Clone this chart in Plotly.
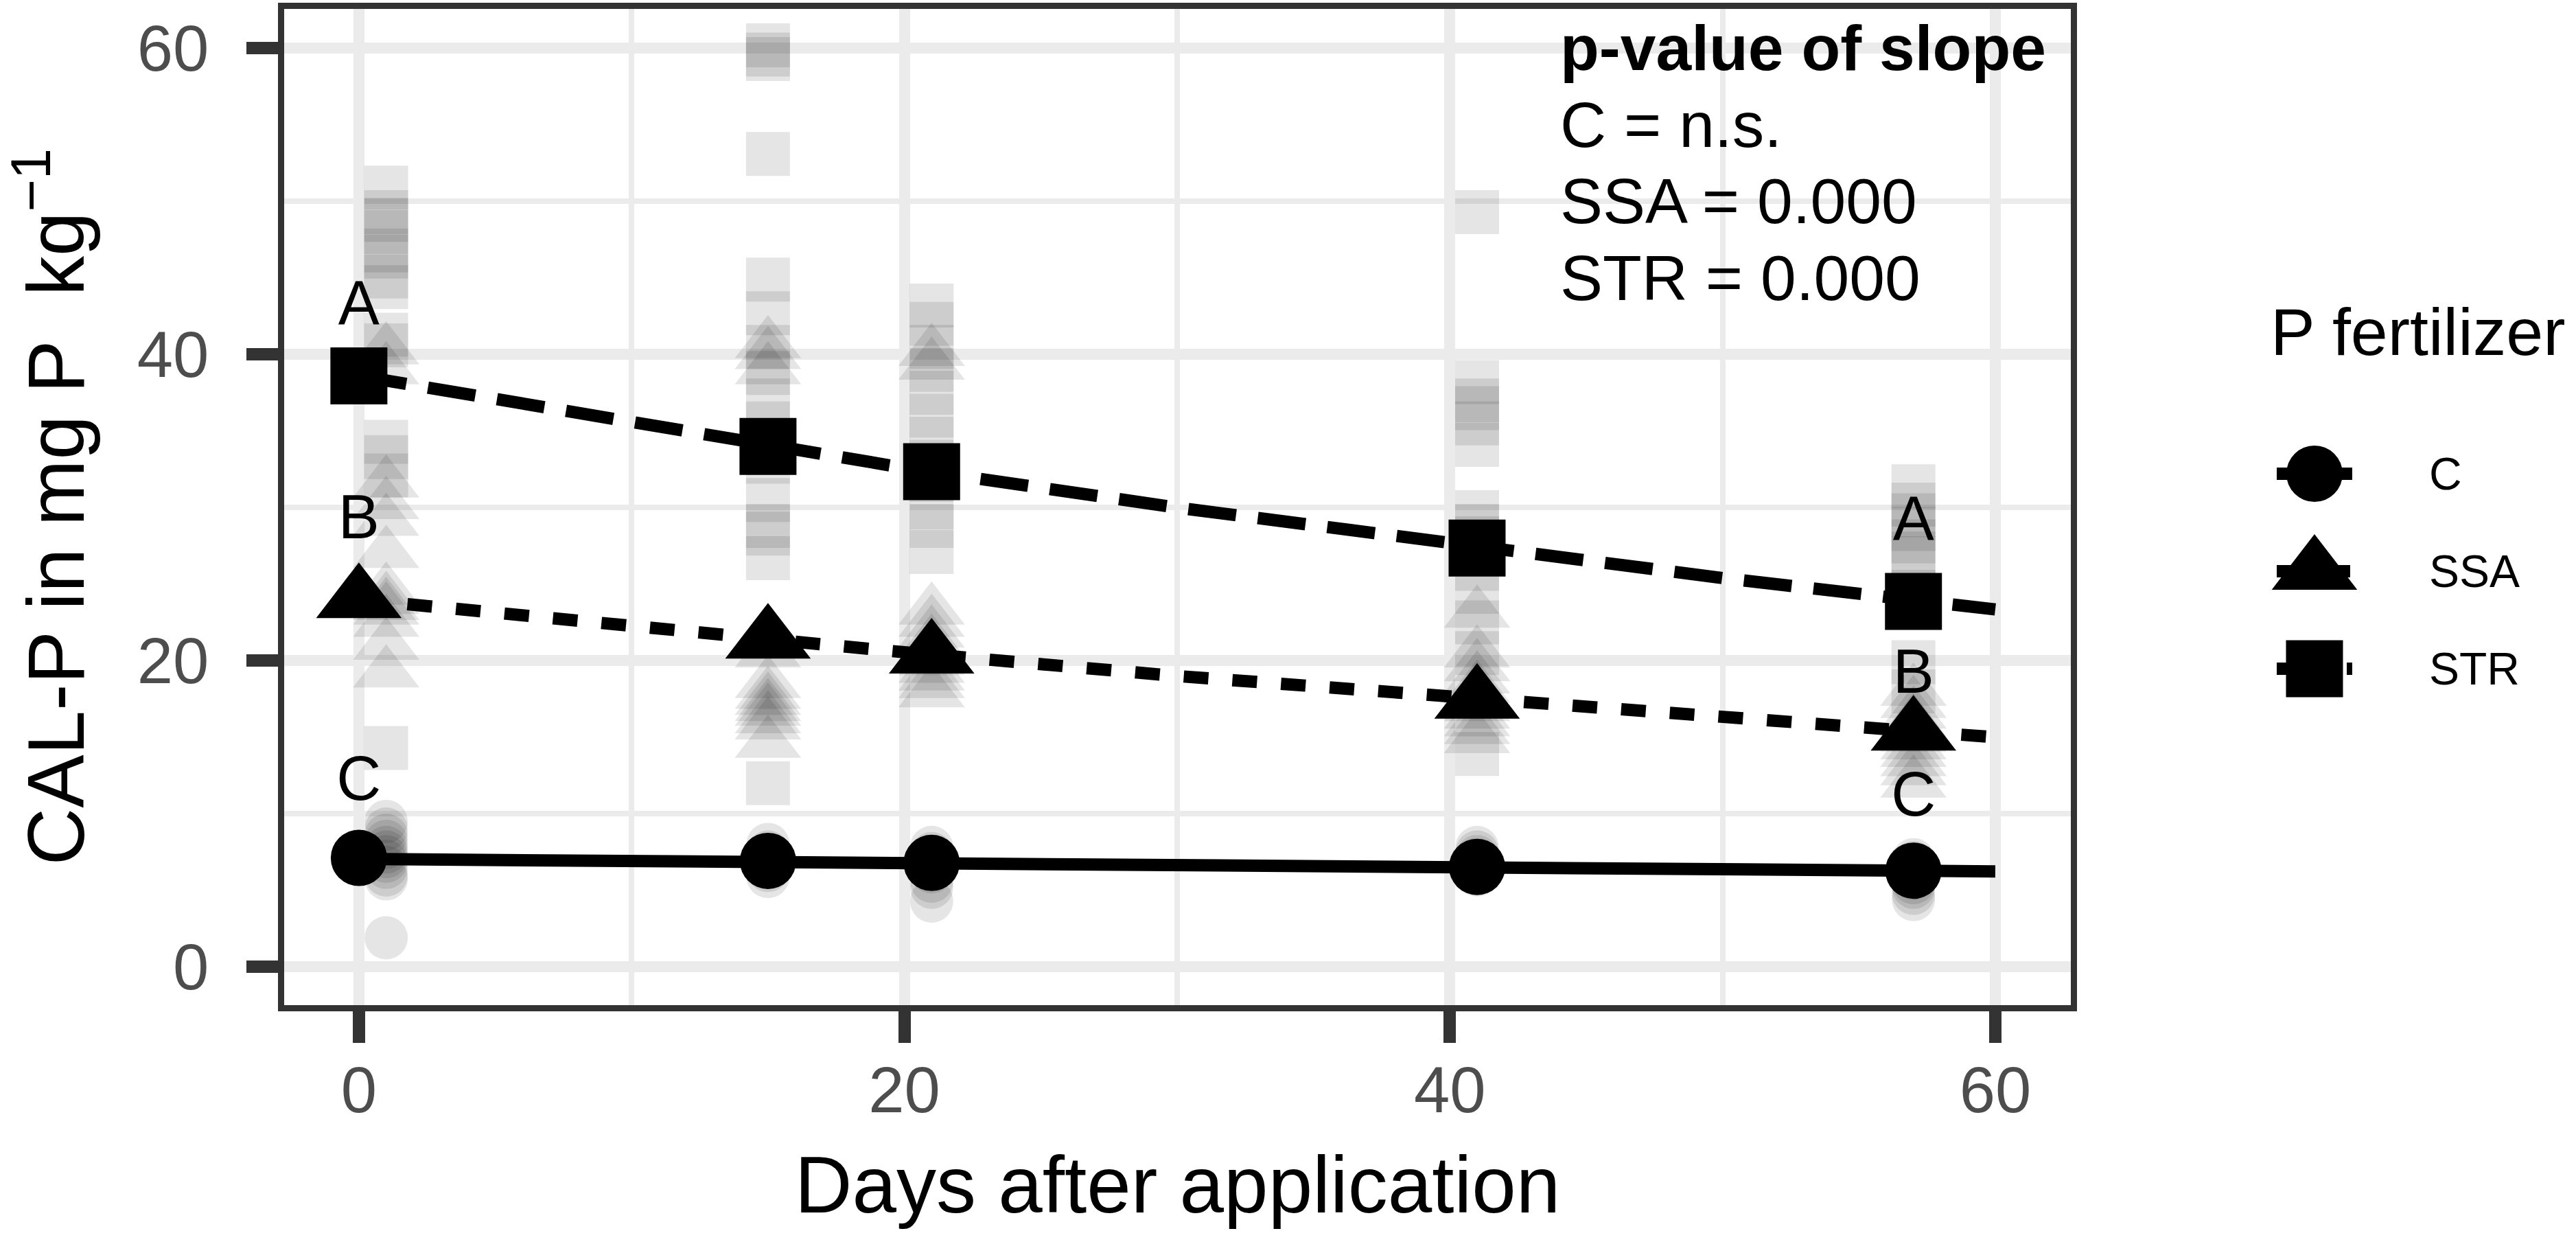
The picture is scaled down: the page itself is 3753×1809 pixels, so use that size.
import plotly.graph_objects as go

W, H = 3753, 1809
FONT = "Liberation Sans, Arial, sans-serif"

# mean CAL-P per sampling day (black markers)
days_mean = [0, 15, 21, 41, 57]
c_mean = [7.12, 6.92, 6.79, 6.53, 6.28]
ssa_mean = [24.0, 21.35, 20.37, 17.42, 15.34]
str_mean = [38.6, 34.0, 32.35, 27.36, 23.87]

# fitted curves
fit_days = [0, 10, 20, 30, 40, 50, 60]
c_fit = [7.05, 6.91, 6.77, 6.64, 6.50, 6.37, 6.24]
ssa_fit = [24.0, 22.2, 20.55, 19.0, 17.6, 16.25, 15.0]
str_fit = [38.6, 35.5, 32.6, 30.0, 27.6, 25.4, 23.35]

# single replicates (grey, transparent)
raw_days = [1, 15, 21, 41, 57]
c_raw = [
    [9.5, 9.0, 8.6, 8.2, 7.8, 7.5, 7.2, 6.9, 6.5, 6.0, 5.75, 1.9],
    [8.0, 7.5, 7.1, 6.9, 6.6, 6.3, 5.9],
    [7.8, 7.4, 7.0, 6.6, 6.2, 5.6, 5.2, 4.3],
    [7.8, 7.5, 7.2, 7.0, 6.8, 6.6, 6.3, 6.0],
    [7.0, 6.8, 6.5, 6.2, 6.0, 5.8, 5.5, 5.2, 4.8, 4.4],
]
ssa_raw = [
    [40.3, 39.0, 31.6, 30.2, 29.1, 27.0, 24.6, 24.0, 23.6, 23.3, 22.5, 21.0, 19.2],
    [40.7, 40.0, 39.0, 21.8, 20.5, 18.5, 17.8, 17.4, 17.0, 16.7, 16.2, 15.8, 14.6],
    [40.2, 39.3, 23.3, 22.5, 21.8, 21.2, 20.6, 20.0, 19.5, 19.0, 18.5, 17.9],
    [23.1, 20.5, 19.6, 18.8, 18.2, 17.6, 17.0, 16.5, 16.0, 15.5, 14.9],
    [18.0, 17.2, 16.5, 16.0, 15.5, 15.0, 14.5, 14.0, 13.4, 12.8, 12.0],
]
str_raw = [
    [50.9, 49.3, 48.8, 48.0, 46.8, 46.4, 45.1, 44.4, 41.3, 40.6, 34.3, 33.3, 32.1, 14.3],
    [60.2, 59.6, 59.3, 53.1, 44.9, 42.7, 40.5, 38.8, 37.0, 35.5, 33.0, 30.5, 28.8, 28.3, 26.7, 12.0],
    [43.2, 42.0, 40.5, 39.0, 37.5, 36.0, 34.5, 33.0, 31.8, 30.0, 28.8, 27.1],
    [49.3, 38.2, 37.0, 36.5, 35.5, 34.1, 29.7, 28.8, 28.0, 27.0, 26.0, 24.5, 22.5, 20.5, 13.9],
    [31.4, 30.2, 29.5, 28.6, 27.8, 27.0, 26.7, 24.5, 23.5, 19.9, 18.0],
]

# significance letters
letter_x = [0, 0, 0, 57, 57, 57]
letter_y = [43.0, 29.0, 11.9, 28.9, 18.9, 10.9]
letter_text = ["A", "B", "C", "A", "B", "C"]

pval_lines = ["<b>p-value of slope</b>", "C = n.s.", "SSA = 0.000", "STR = 0.000"]
pval_y = [60, 55, 50, 45]

series_names = ["C", "SSA", "STR"]
series_symbols = ["circle", "triangle-up", "square"]
series_dash = ["solid", "36px,35px", "70px,32px"]
mean_size = [82, 108, 83]
raw_size = [63, 84, 64]

# legend geometry (pixels)
LEG_ROW0, LEG_STEP = 690, 142
LEG_KEY_L, LEG_KEY_R, LEG_LABEL_X = 3317, 3427, 3537


def px_x(p):
    return p / W


def px_y(p):
    return 1 - p / H


fig = go.Figure()

# grey replicates
for raw, sym, size in zip([c_raw, ssa_raw, str_raw], series_symbols, raw_size):
    xs, ys = [], []
    for d, vals in zip(raw_days, raw):
        xs += [d] * len(vals)
        ys += vals
    fig.add_trace(go.Scatter(x=xs, y=ys, mode="markers",
                             marker=dict(symbol=sym, size=size, color="rgba(0,0,0,0.1)", line=dict(width=0)),
                             showlegend=False, hoverinfo="skip", cliponaxis=False))

# fitted lines
for fit, dash in zip([c_fit, ssa_fit, str_fit], series_dash):
    fig.add_trace(go.Scatter(x=fit_days, y=fit, mode="lines",
                             line=dict(color="black", width=18, dash=dash),
                             showlegend=False, hoverinfo="skip"))

# means
for mean, sym, size in zip([c_mean, ssa_mean, str_mean], series_symbols, mean_size):
    fig.add_trace(go.Scatter(x=days_mean, y=mean, mode="markers",
                             marker=dict(symbol=sym, size=size, color="black", line=dict(width=0)),
                             showlegend=False, cliponaxis=False))

fig.add_trace(go.Scatter(x=letter_x, y=letter_y, text=letter_text, mode="text",
                         textposition="middle center",
                         textfont=dict(size=90, color="black", family=FONT),
                         showlegend=False, hoverinfo="skip", cliponaxis=False))

# legend keys drawn on their own small axes
for i, (sym, dash, size) in enumerate(zip(series_symbols, series_dash, mean_size)):
    fig.add_trace(go.Scatter(x=[0, 1], y=[i, i], mode="lines", xaxis="x2", yaxis="y2",
                             line=dict(color="black", width=18, dash=dash),
                             showlegend=False, hoverinfo="skip", cliponaxis=False))
    fig.add_trace(go.Scatter(x=[0.5], y=[i], mode="markers", xaxis="x2", yaxis="y2",
                             marker=dict(symbol=sym, size=size, color="black", line=dict(width=0)),
                             showlegend=False, hoverinfo="skip", cliponaxis=False))

annotations = []
for txt, yv in zip(pval_lines, pval_y):
    annotations.append(dict(x=44, y=yv, xref="x", yref="y", text=txt, showarrow=False,
                            xanchor="left", yanchor="middle",
                            font=dict(size=93, color="black", family=FONT)))
for i, name in enumerate(series_names):
    annotations.append(dict(x=px_x(LEG_LABEL_X), y=px_y(LEG_ROW0 + i * LEG_STEP),
                            xref="paper", yref="paper", text=name, showarrow=False,
                            xanchor="left", yanchor="middle",
                            font=dict(size=66, color="black", family=FONT)))
annotations.append(dict(x=px_x(3306), y=px_y(483), xref="paper", yref="paper", text="P fertilizer",
                        showarrow=False, xanchor="left", yanchor="middle",
                        font=dict(size=97, color="black", family=FONT)))

axis_common = dict(
    showline=True, mirror=True, linewidth=9, linecolor="#333333",
    ticks="outside", ticklen=46, tickwidth=18, tickcolor="#333333",
    tickvals=[0, 20, 40, 60], tickfont=dict(size=94, color="#4D4D4D", family=FONT),
    showgrid=True, gridcolor="#EBEBEB", gridwidth=16,
    minor=dict(dtick=10, tick0=0, showgrid=True, gridcolor="#EBEBEB", gridwidth=8, ticks=""),
    zeroline=False, automargin=False,
)

leg_top = LEG_ROW0 - LEG_STEP / 2
leg_bot = LEG_ROW0 + LEG_STEP * (len(series_names) - 0.5)

fig.update_layout(
    width=W, height=H,
    margin=dict(l=0, r=0, t=0, b=0),
    plot_bgcolor="white", paper_bgcolor="white",
    showlegend=False,
    font=dict(family=FONT, color="black"),
    annotations=annotations,
    xaxis=dict(domain=[px_x(414), px_x(3017)], range=[-2.74, 62.77],
               title=dict(text="Days after application", font=dict(size=116, color="black"), standoff=50),
               ticklabelstandoff=-12, **axis_common),
    yaxis=dict(domain=[px_y(1464), px_y(12.5)], range=[-2.5, 62.6],
               title=dict(text="CAL-P in mg P\u00a0 kg<sup>\u22121</sup>", font=dict(size=116, color="black"), standoff=90),
               ticklabelstandoff=36, **axis_common),
    xaxis2=dict(domain=[px_x(LEG_KEY_L), px_x(LEG_KEY_R)], range=[0, 1], anchor="y2",
                visible=False, fixedrange=True),
    yaxis2=dict(domain=[px_y(leg_bot), px_y(leg_top)], range=[len(series_names) - 0.5, -0.5],
                anchor="x2", visible=False, fixedrange=True),
)

fig.write_html("out.html", config={"displayModeBar": False},
               post_script="document.body.style.margin='0px';")
